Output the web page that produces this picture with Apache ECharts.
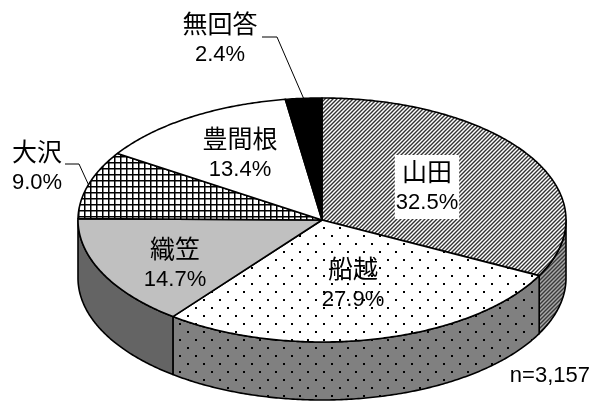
<!DOCTYPE html>
<html>
<head>
<meta charset="utf-8">
<script src="https://cdn.jsdelivr.net/npm/echarts@6/dist/echarts.min.js"></script>
<style>
  html, body { margin: 0; padding: 0; background: #fff; }
  #main { width: 601px; height: 401px; }
</style>
</head>
<body>
<div id="main"></div>
<script>
// data
var names = ['山田', '船越', '織笠', '大沢', '豊間根', '無回答'];
var values = [32.5, 27.9, 14.7, 9.0, 13.4, 2.4];
var sampleSize = '3,157';

// layout of the tilted pie
var CX = 322, CY = 220, RX = 244, RY = 122, DEPTH = 58;
// label centres (inside / outside), leader line start + elbow for outside labels
var labelPos = [[427, 187], [353, 284], [175, 264], [37, 167], [240, 154], [220, 39]];
var leader = [null, null, null, [[65, 164], [79, 164]], null, [[262, 37], [277, 37]]];

// numbers in the original are tall and narrow: use the narrow face if present
function hasFont(name) {
  var g = document.createElement('canvas').getContext('2d');
  g.font = '40px monospace';
  var w0 = g.measureText('0123456789%').width;
  g.font = '40px "' + name + '", monospace';
  return g.measureText('0123456789%').width !== w0;
}
var narrow = hasFont('Liberation Sans Narrow');
var NUM_FONT = narrow ? '"Liberation Sans Narrow", "Noto Sans CJK JP", sans-serif'
                      : '"Liberation Sans", Arial, "Noto Sans CJK JP", sans-serif';
var NUM_SIZE = narrow ? 25 : 22;
var CJK_FONT = '"Noto Sans CJK JP", sans-serif';

function tile(w, h, bg, draw) {
  var c = document.createElement('canvas');
  c.width = w; c.height = h;
  var g = c.getContext('2d');
  g.fillStyle = bg; g.fillRect(0, 0, w, h);
  if (draw) draw(g);
  return { image: c, repeat: 'repeat' };
}
function hatch(bg, fg) {
  return tile(4, 4, bg, function (g) {
    g.strokeStyle = fg; g.lineWidth = 1.4;
    g.beginPath();
    g.moveTo(-1, 5); g.lineTo(5, -1);
    g.moveTo(-1, 1); g.lineTo(1, -1);
    g.moveTo(3, 5); g.lineTo(5, 3);
    g.stroke();
  });
}
function dots(bg) {
  return tile(16, 16, bg, function (g) {
    g.fillStyle = '#000';
    g.fillRect(3, 3, 2, 2);
    g.fillRect(11, 11, 2, 2);
  });
}
var grid = tile(6, 6, '#fff', function (g) {
  g.fillStyle = '#000';
  g.fillRect(0, 0, 6, 1.5);
  g.fillRect(0, 0, 1.5, 6);
});

var topFill = [hatch('#fff', '#333'), dots('#fff'), '#c0c0c0', grid, '#fff', '#000'];
var sideFill = [hatch('#a8a8a8', '#3a3a3a'), dots('#808080'), '#646464', '#333', '#888', '#000'];

var total = values.reduce(function (a, b) { return a + b; }, 0);
var startAt = [];
values.reduce(function (acc, v, i) { startAt[i] = acc; return acc + v; }, 0);

function pt(t, dy) {
  return [CX + RX * Math.sin(t), CY - RY * Math.cos(t) + (dy || 0)];
}
function arc(a0, a1, dy) {
  var n = Math.max(2, Math.ceil(Math.abs(a1 - a0) / 0.01));
  var out = [];
  for (var k = 0; k <= n; k++) out.push(pt(a0 + (a1 - a0) * k / n, dy));
  return out;
}

function renderItem(params, api) {
  var i = params.dataIndex;
  var v = api.value(0);
  var a0 = startAt[i] / total * Math.PI * 2;
  var a1 = (startAt[i] + v) / total * Math.PI * 2;
  var children = [];

  // front wall
  var lo = Math.max(a0, Math.PI / 2), hi = Math.min(a1, Math.PI * 1.5);
  if (lo < hi) {
    var wall = arc(lo, hi, 0).concat(arc(hi, lo, DEPTH));
    children.push({
      type: 'polygon', shape: { points: wall },
      style: { fill: sideFill[i], stroke: '#000', lineWidth: 1.6, lineJoin: 'round' }
    });
  }
  // top face
  var face = [[CX, CY]].concat(arc(a0, a1, 0));
  children.push({
    type: 'polygon', shape: { points: face },
    style: { fill: topFill[i], stroke: '#000', lineWidth: 1.6, lineJoin: 'round' }
  });

  var txt = '{a|' + names[i] + '}\n{b|' + v.toFixed(1) + '%}';
  var lp = labelPos[i];
  var textStyle = {
    text: txt, x: lp[0], y: lp[1], align: 'center', verticalAlign: 'middle',
    fill: '#000',
    rich: {
      a: { fontFamily: CJK_FONT, fontSize: 25, lineHeight: 32, fill: '#000' },
      b: { fontFamily: NUM_FONT, fontSize: NUM_SIZE, lineHeight: 32, fill: '#000' }
    }
  };
  if (i === 0) { textStyle.backgroundColor = '#fff'; textStyle.padding = [0, 1]; }
  if (leader[i]) {
    var mid = (a0 + a1) / 2;
    children.push({
      type: 'polyline',
      shape: { points: leader[i].concat([pt(mid, 0)]) },
      style: { stroke: '#000', lineWidth: 1, fill: null }
    });
  }
  children.push({ type: 'text', style: textStyle, z2: 10 });
  return { type: 'group', children: children };
}

var chart = echarts.init(document.getElementById('main'));
chart.setOption({
  animation: false,
  backgroundColor: '#fff',
  series: [{
    type: 'custom',
    coordinateSystem: 'none',
    renderItem: renderItem,
    data: values.map(function (v, i) { return { name: names[i], value: [v] }; })
  }],
  graphic: [{
    type: 'text', right: 11, top: 365,
    style: { text: 'n=' + sampleSize, fontFamily: NUM_FONT, fontSize: NUM_SIZE, fill: '#000' }
  }]
});
</script>
</body>
</html>
